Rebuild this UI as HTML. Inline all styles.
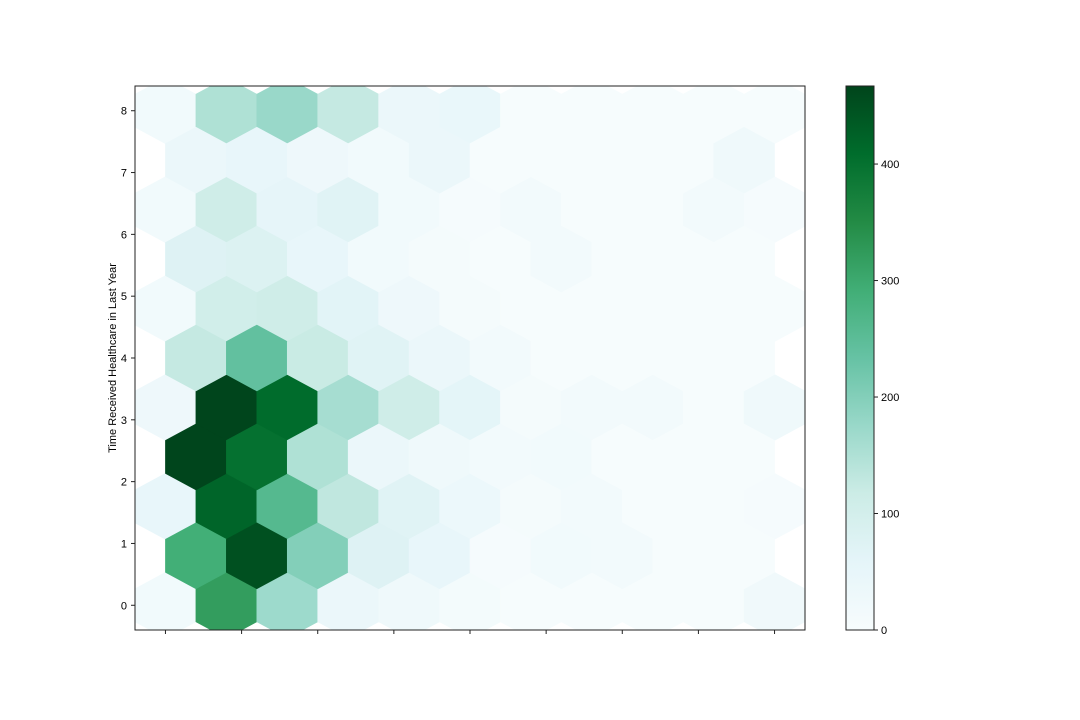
<!DOCTYPE html>
<html><head><meta charset="utf-8"><style>
html,body{margin:0;padding:0;background:#fff;}
svg{display:block;font-family:"Liberation Sans","DejaVu Sans",sans-serif;}
</style></head><body>
<svg id="chart" width="1080" height="720" viewBox="0 0 1080 720">
<defs>
<clipPath id="plotclip"><rect x="135" y="86" width="670" height="544"/></clipPath>
<linearGradient id="cbgrad" x1="0" y1="1" x2="0" y2="0">
<stop offset="0" stop-color="#f7fcfd"/><stop offset="0.125" stop-color="#e5f5f9"/><stop offset="0.25" stop-color="#ccece6"/><stop offset="0.375" stop-color="#99d8c9"/><stop offset="0.5" stop-color="#66c2a4"/><stop offset="0.625" stop-color="#41ae76"/><stop offset="0.75" stop-color="#238b45"/><stop offset="0.875" stop-color="#006d2c"/><stop offset="1" stop-color="#00441b"/>
</linearGradient>
</defs>
<g id="hexes" clip-path="url(#plotclip)"></g>
<rect x="135" y="86" width="670" height="544" fill="none" stroke="#222" stroke-width="1"/>
<g id="yaxis"></g>
<g id="xaxis"></g>
<text x="116" y="358" transform="rotate(-90 116 358)" text-anchor="middle" font-size="11" fill="#000">Time Received Healthcare in Last Year</text>
<rect x="846" y="86" width="28" height="544" fill="url(#cbgrad)" stroke="#222" stroke-width="1"/>
<g id="cbaxis"></g>
</svg>
<script>
// Lattice 1 rows (y = 0, 1.6, 3.2, 4.8, 6.4, 8.0), columns x = 0, 0.8, ..., 8.0
const lattice1Counts = [
  [20, 320, 170, 40, 25, 12, 4, 3, 3, 3, 22],
  [50, 420, 260, 130, 70, 35, 10, 15, 3, 3, 5],
  [30, 465, 410, 160, 110, 60, 10, 15, 15, 3, 25],
  [20, 105, 110, 65, 30, 10, 3, 3, 3, 3, 3],
  [20, 110, 55, 70, 20, 5, 15, 3, 3, 15, 5],
  [20, 150, 175, 125, 40, 45, 3, 3, 3, 3, 3]
];
// Lattice 2 rows (y = 0.8, 2.4, 4.0, 5.6, 7.2), columns x = 0.4, 1.2, ..., 7.6
const lattice2Counts = [
  [290, 450, 200, 75, 50, 5, 20, 15, 3, 3],
  [465, 400, 150, 40, 25, 15, 20, 3, 3, 3],
  [125, 240, 120, 70, 40, 15, 3, 3, 3, 3],
  [75, 80, 50, 20, 10, 3, 15, 3, 3, 3],
  [40, 50, 30, 20, 40, 3, 3, 3, 3, 25]
];
const yTickLabels = ["0","1","2","3","4","5","6","7","8"];
const xTickValues = [0,1,2,3,4,5,6,7,8];
const colorbarTicks = [0,100,200,300,400];
const vmax = 467;
const xMin = 0, sx = 0.8, yMin = 0, sy = 1.6;

const X0 = 135, X1 = 805, Y0 = 630, Y1 = 86, DMIN = -0.4, DMAX = 8.4;
function xs(v){ return X0 + (v - DMIN) / (DMAX - DMIN) * (X1 - X0); }
function ys(v){ return Y0 - (v - DMIN) / (DMAX - DMIN) * (Y0 - Y1); }
const stops = ["#f7fcfd","#e5f5f9","#ccece6","#99d8c9","#66c2a4","#41ae76","#238b45","#006d2c","#00441b"].map(h=>[parseInt(h.slice(1,3),16),parseInt(h.slice(3,5),16),parseInt(h.slice(5,7),16)]);
function color(c){
  let t = Math.max(0, Math.min(1, c / vmax)) * 8;
  let i = Math.min(7, Math.floor(t)), f = t - i;
  const a = stops[i], b = stops[i+1];
  return "rgb(" + [0,1,2].map(k=>Math.round(a[k] + (b[k]-a[k])*f)).join(",") + ")";
}
const NS = "http://www.w3.org/2000/svg";
const hexG = document.getElementById("hexes");
function hex(cx, cy, c){
  const hw = sx/2, ht = sy/3, hs = sy/6;
  const pts = [[cx+hw,cy-hs],[cx+hw,cy+hs],[cx,cy+ht],[cx-hw,cy+hs],[cx-hw,cy-hs],[cx,cy-ht]]
    .map(p=>xs(p[0]).toFixed(2)+","+ys(p[1]).toFixed(2)).join(" ");
  const el = document.createElementNS(NS, "polygon");
  el.setAttribute("points", pts);
  el.setAttribute("fill", color(c));
  el.setAttribute("stroke", color(c));
  el.setAttribute("stroke-width", "0.6");
  
  
  hexG.appendChild(el);
}
lattice1Counts.forEach((row, j) => row.forEach((c, i) => hex(xMin + i*sx, yMin + j*sy, c)));
lattice2Counts.forEach((row, j) => row.forEach((c, i) => hex(xMin + sx/2 + i*sx, yMin + sy/2 + j*sy, c)));

const yA = document.getElementById("yaxis");
yTickLabels.forEach((lab, i) => {
  const y = ys(i);
  const t = document.createElementNS(NS, "line");
  t.setAttribute("x1", 131); t.setAttribute("x2", 135); t.setAttribute("y1", y); t.setAttribute("y2", y);
  t.setAttribute("stroke", "#222");
  
  
  yA.appendChild(t);
  const tx = document.createElementNS(NS, "text");
  tx.setAttribute("x", 127); tx.setAttribute("y", y + 4); tx.setAttribute("text-anchor", "end");
  tx.setAttribute("font-size", "11"); tx.textContent = lab;
  
  
  yA.appendChild(tx);
});
const xA = document.getElementById("xaxis");
xTickValues.forEach(v => {
  const x = xs(v);
  const t = document.createElementNS(NS, "line");
  t.setAttribute("x1", x); t.setAttribute("x2", x); t.setAttribute("y1", 630); t.setAttribute("y2", 634);
  t.setAttribute("stroke", "#222");
  
  
  xA.appendChild(t);
});
const cA = document.getElementById("cbaxis");
colorbarTicks.forEach(v => {
  const y = 630 - v / vmax * 544;
  const t = document.createElementNS(NS, "line");
  t.setAttribute("x1", 874); t.setAttribute("x2", 878); t.setAttribute("y1", y); t.setAttribute("y2", y);
  t.setAttribute("stroke", "#222");
  
  
  cA.appendChild(t);
  const tx = document.createElementNS(NS, "text");
  tx.setAttribute("x", 881); tx.setAttribute("y", y + 4);
  tx.setAttribute("font-size", "11"); tx.textContent = String(v);
  
  
  cA.appendChild(tx);
});
</script>
</body></html>
